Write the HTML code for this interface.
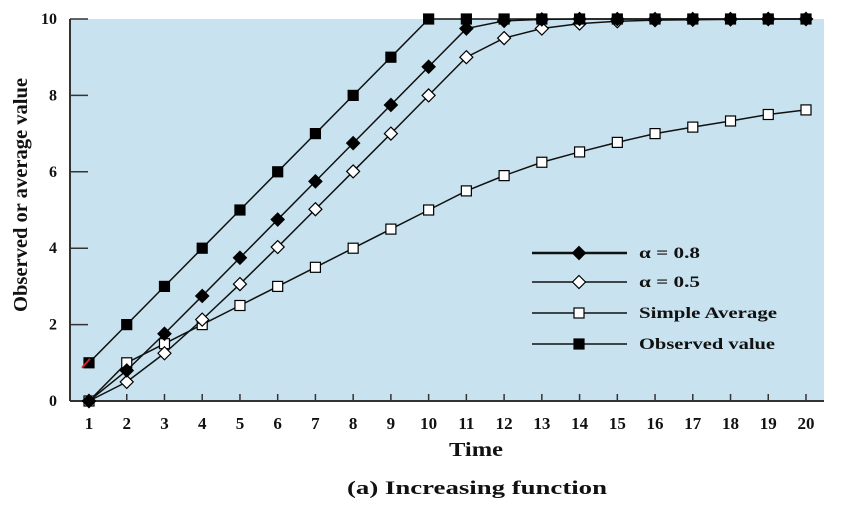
<!DOCTYPE html>
<html><head><meta charset="utf-8"><style>
body{margin:0;background:#fff}
svg text{font-family:"Liberation Serif",serif;font-weight:bold;fill:#111}
</style></head><body>
<svg width="846" height="512">
<rect x="70" y="19" width="754" height="382" fill="#c8e3ef"/>
<g id="axes"></g><g id="series"></g>
<text x="449" y="456" font-size="20" textLength="54" lengthAdjust="spacingAndGlyphs">Time</text>
<text x="347" y="494" font-size="19" textLength="260" lengthAdjust="spacingAndGlyphs">(a) Increasing function</text>
<text transform="translate(27,312) rotate(-90)" font-size="20" textLength="234" lengthAdjust="spacingAndGlyphs">Observed or average value</text>
<g id="legend"></g>
</svg>
<script>
const times=[1,2,3,4,5,6,7,8,9,10,11,12,13,14,15,16,17,18,19,20];
const observed=[1,2,3,4,5,6,7,8,9,10,10,10,10,10,10,10,10,10,10,10];
const alpha08=[0,0.8,1.76,2.75,3.75,4.75,5.75,6.75,7.75,8.75,9.75,9.95,9.99,10,10,10,10,10,10,10];
const alpha05=[0,0.5,1.25,2.13,3.06,4.03,5.02,6.01,7.0,8.0,9.0,9.5,9.75,9.88,9.94,9.97,9.98,9.99,10,10];
const simpleAvg=[0,1,1.5,2,2.5,3,3.5,4,4.5,5,5.5,5.9,6.25,6.52,6.77,7.0,7.17,7.33,7.5,7.62];
const yTicks=[0,2,4,6,8,10];
const NS="http://www.w3.org/2000/svg";
const X=t=>89+(t-1)*(806-89)/19;
const Y=v=>401-v*38.2;
function mk(tag,at,parent){const e=document.createElementNS(NS,tag);for(const k in at)e.setAttribute(k,at[k]);parent.appendChild(e);return e;}
const ax=document.getElementById('axes');
let e=mk('line',{x1:70,y1:401,x2:824,y2:401,stroke:'#333','stroke-width':2},ax);


e=mk('line',{x1:70,y1:19,x2:70,y2:401,stroke:'#333','stroke-width':2},ax);


yTicks.forEach(v=>{
 let l=mk('line',{x1:70,y1:Y(v),x2:88,y2:Y(v),stroke:'#333','stroke-width':1.5},ax);
 
 
 let t=mk('text',{x:57,y:Y(v)+5,'font-size':16,'text-anchor':'end'},ax);t.textContent=v;
 
 
});
times.forEach(v=>{
 let l=mk('line',{x1:X(v),y1:401,x2:X(v),y2:394,stroke:'#333','stroke-width':1.5},ax);
 
 
 let t=mk('text',{x:X(v),y:429,'font-size':17,'text-anchor':'middle'},ax);t.textContent=v;
 
 
});
function marker(kind,x,y,p){
 if(kind==='sq'||kind==='osq') return mk('rect',{x:x-5,y:y-5,width:10,height:10,fill:kind==='sq'?'#000':'#fff',stroke:'#000','stroke-width':1.2},p);
 return mk('polygon',{points:`${x},${y-6.5} ${x+6.5},${y} ${x},${y+6.5} ${x-6.5},${y}`,fill:kind==='dia'?'#000':'#fff',stroke:'#000','stroke-width':1.2},p);
}
const sg=document.getElementById('series');
const series=[[simpleAvg,'osq','simple-average'],[alpha05,'odia','alpha-0-5'],[alpha08,'dia','alpha-0-8'],[observed,'sq','observed-value']];
series.forEach(([d,k,n])=>{
 const g=mk('g',{},sg);
 
 
 const l=mk('polyline',{points:d.map((v,i)=>X(times[i])+','+Y(v)).join(' '),fill:'none',stroke:'#111','stroke-width':1.5},g);
 
 
 d.forEach((v,i)=>{const m=marker(k,X(times[i]),Y(v),g);
  
  });
});
let r=mk('line',{x1:X(1)-7,y1:Y(observed[0])+5,x2:X(1)+1,y2:Y(observed[0])-4,stroke:'#d02020','stroke-width':2},sg);


const lg=document.getElementById('legend');
[['dia','α = 0.8',253,2.5,61],['odia','α = 0.5',282,1.5,61],['osq','Simple Average',313,1.5,138],['sq','Observed value',344,1.5,136]].forEach(([k,txt,y,w,len])=>{
 const g=mk('g',{},lg);
 
 
 mk('line',{x1:532,y1:y,x2:627,y2:y,stroke:'#111','stroke-width':w},g);
 marker(k,579,y,g);
 const t=mk('text',{x:639,y:y+5,'font-size':16,textLength:len,lengthAdjust:'spacingAndGlyphs'},g);t.textContent=txt;
});
</script>
</body></html>
